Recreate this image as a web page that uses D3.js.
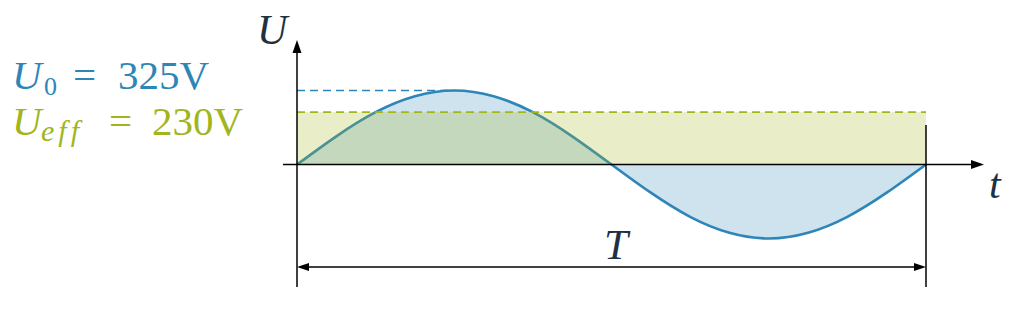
<!DOCTYPE html>
<html><head><meta charset="utf-8">
<script src="https://cdn.jsdelivr.net/npm/d3@7"></script>
<style>html,body{margin:0;padding:0;background:#fff;}svg{display:block;} text{font-family:"Liberation Serif","DejaVu Serif",serif;}</style>
</head><body>
<script>
// Data
const periodMs = 20;
const timeMs = [0,1.25,2.5,3.75,5,6.25,7.5,8.75,10,11.25,12.5,13.75,15,16.25,17.5,18.75,20];
const voltage = [0,124,230,300,325,300,230,124,0,-124,-230,-300,-325,-300,-230,-124,0];
const U0 = 325;
const Ueff = 230;
const legendLabels = ["325V", "230V"];

const W = 1024, H = 334;
const blue = "#2e86b8", green = "#a2b61c", ink = "#1d3044";
const svg = d3.select("body").append("svg").attr("width", W).attr("height", H);

const x = d3.scaleLinear().domain([0, periodMs]).range([297, 926]);
const y = d3.scaleLinear().domain([-U0, U0]).range([238.5, 90.5]);
const pts = timeMs.map((t, i) => ({t, v: voltage[i]}));

// blue area under sine
svg.append("path").datum(pts)
  .attr("d", d3.area().x(d => x(d.t)).y0(y(0)).y1(d => y(d.v)).curve(d3.curveNatural))
  .attr("fill", blue).attr("fill-opacity", 0.23);
svg.append("path").datum(pts)
  .attr("d", d3.line().x(d => x(d.t)).y(d => y(d.v)).curve(d3.curveNatural))
  .attr("fill", "none").attr("stroke", blue).attr("stroke-width", 2.7);

// effective value band
svg.append("rect").attr("x", x(0)).attr("width", x(periodMs) - x(0))
  .attr("y", y(Ueff)).attr("height", y(0) - y(Ueff))
  .attr("fill", green).attr("fill-opacity", 0.24);

// dashed lines
svg.append("line").attr("x1", x(0)).attr("x2", x(periodMs / 4)).attr("y1", y(U0)).attr("y2", y(U0))
  .attr("stroke", blue).attr("stroke-width", 1.6).attr("stroke-dasharray", "8,5");
svg.append("line").attr("x1", x(0)).attr("x2", x(periodMs)).attr("y1", y(Ueff)).attr("y2", y(Ueff))
  .attr("stroke", green).attr("stroke-width", 1.6).attr("stroke-dasharray", "8,5");

// axes
const ax = svg.append("g").attr("stroke", "#000").attr("stroke-width", 1.5);
ax.append("line").attr("x1", x(0)).attr("x2", x(0)).attr("y1", 287).attr("y2", 50);
ax.append("line").attr("x1", 283).attr("x2", 975).attr("y1", y(0)).attr("y2", y(0));
ax.append("line").attr("x1", x(periodMs)).attr("x2", x(periodMs)).attr("y1", 125).attr("y2", 287);
ax.append("line").attr("x1", x(0) + 6).attr("x2", x(periodMs) - 6).attr("y1", 267).attr("y2", 267);

const tri = (pts) => "M" + pts.map(p => p.join(",")).join("L") + "Z";
svg.append("path").attr("d", tri([[x(0), 40], [x(0) - 4.5, 53], [x(0) + 4.5, 53]])).attr("fill", "#000");
svg.append("path").attr("d", tri([[984, y(0)], [971, y(0) - 4.5], [971, y(0) + 4.5]])).attr("fill", "#000");
svg.append("path").attr("d", tri([[x(0), 267], [x(0) + 12, 263], [x(0) + 12, 271]])).attr("fill", "#000");
svg.append("path").attr("d", tri([[x(periodMs), 267], [x(periodMs) - 12, 263], [x(periodMs) - 12, 271]])).attr("fill", "#000");

// axis labels
svg.append("text").attr("x", 257).attr("y", 44).text("U")
  .attr("font-style", "italic").attr("font-size", 42).attr("fill", ink);
svg.append("text").attr("x", 989).attr("y", 198).text("t")
  .attr("font-style", "italic").attr("font-size", 42).attr("fill", ink);
svg.append("text").attr("x", 604).attr("y", 259).text("T")
  .attr("font-style", "italic").attr("font-size", 43).attr("fill", ink);

// legend (one text per line, subscripts as tspans)
function legendLine(yb, color, sub, subItalic, subSize, subX, eqX, valX, val, spacing) {
  const t = svg.append("text").attr("x", 12).attr("y", yb).attr("fill", color).attr("font-size", 41);
  t.append("tspan").attr("font-style", "italic").text("U");
  t.append("tspan").attr("x", subX).attr("dy", 6).attr("font-size", subSize)
    .attr("letter-spacing", spacing).attr("font-style", subItalic ? "italic" : "normal").text(sub);
  t.append("tspan").attr("x", eqX).attr("dy", -6).attr("letter-spacing", 0).text("=");
  t.append("tspan").attr("x", valX).text(val);
}
legendLine(89, blue, "0", false, 26, 44, 73, 118, legendLabels[0], 0);
legendLine(135, green, "eff", true, 30, 41, 109, 152, legendLabels[1], 4);
</script>
</body></html>
